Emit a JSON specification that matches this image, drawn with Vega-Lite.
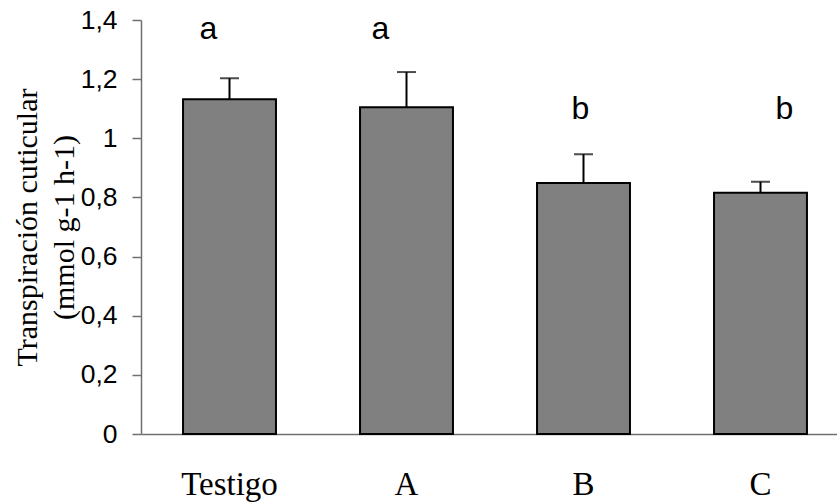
{
  "$schema": "https://vega.github.io/schema/vega-lite/v6.json",
  "width": 708,
  "height": 414,
  "autosize": {"type": "none"},
  "padding": {"left": 141, "top": 20, "right": 0, "bottom": 69},
  "background": "white",
  "config": {
    "view": {"stroke": null},
    "axis": {"grid": false},
    "axisY": {
      "labelFont": "Liberation Sans", "labelFontSize": 26.5, "labelColor": "black",
      "labelPadding": 15, "tickSize": 9, "tickColor": "#707070", "tickWidth": 1.5,
      "domainColor": "#707070", "domainWidth": 1.5
    },
    "axisX": {
      "labelAngle": 0, "ticks": false, "tickSize": 0,
      "labelFont": "Liberation Serif", "labelFontSize": 33, "labelColor": "black",
      "labelPadding": 34, "domainColor": "#707070", "domainWidth": 1.5
    }
  },
  "data": {
    "values": [
      {"trt": "Testigo", "mean": 1.132, "upper": 1.203, "letter": "a", "ly": 1.335},
      {"trt": "A", "mean": 1.105, "upper": 1.224, "letter": "a", "ly": 1.335},
      {"trt": "B", "mean": 0.849, "upper": 0.946, "letter": "b", "ly": 1.064},
      {"trt": "C", "mean": 0.816, "upper": 0.853, "letter": "b", "ly": 1.064}
    ]
  },
  "encoding": {
    "x": {
      "field": "trt", "type": "nominal", "sort": null,
      "scale": {"paddingInner": 0.475, "paddingOuter": 0.2375},
      "axis": {"title": null}
    }
  },
  "layer": [
    {
      "mark": {"type": "bar", "fill": "#808080", "stroke": "black", "strokeWidth": 2},
      "encoding": {
        "y": {
          "field": "mean", "type": "quantitative",
          "scale": {"domain": [0, 1.4], "nice": false},
          "axis": {
            "values": [0, 0.2, 0.4, 0.6, 0.8, 1, 1.2, 1.4],
            "labelExpr": "replace(format(datum.value, '~g'), '.', ',')",
            "title": ["Transpiración cuticular", "(mmol g-1 h-1)"],
            "titleFont": "Liberation Serif", "titleFontSize": 30, "titleFontWeight": "normal",
            "titleColor": "black", "titleLineHeight": 37, "titleAngle": -90,
            "titleX": -129, "titleY": 207, "titleAlign": "center", "titleBaseline": "top"
          }
        }
      }
    },
    {
      "mark": {"type": "rule", "color": "black", "strokeWidth": 2},
      "encoding": {"y": {"field": "mean", "type": "quantitative"}, "y2": {"field": "upper"}}
    },
    {
      "mark": {"type": "tick", "color": "black", "size": 19, "thickness": 2},
      "encoding": {"y": {"field": "upper", "type": "quantitative"}}
    },
    {
      "transform": [{"filter": "datum.trt === 'Testigo'"}],
      "mark": {"type": "text", "font": "Liberation Sans", "fontSize": 32, "color": "black", "baseline": "alphabetic", "dx": -21},
      "encoding": {"y": {"field": "ly", "type": "quantitative"}, "text": {"field": "letter"}}
    },
    {
      "transform": [{"filter": "datum.trt === 'A'"}],
      "mark": {"type": "text", "font": "Liberation Sans", "fontSize": 32, "color": "black", "baseline": "alphabetic", "dx": -26},
      "encoding": {"y": {"field": "ly", "type": "quantitative"}, "text": {"field": "letter"}}
    },
    {
      "transform": [{"filter": "datum.trt === 'B'"}],
      "mark": {"type": "text", "font": "Liberation Sans", "fontSize": 32, "color": "black", "baseline": "alphabetic", "dx": -3},
      "encoding": {"y": {"field": "ly", "type": "quantitative"}, "text": {"field": "letter"}}
    },
    {
      "transform": [{"filter": "datum.trt === 'C'"}],
      "mark": {"type": "text", "font": "Liberation Sans", "fontSize": 32, "color": "black", "baseline": "alphabetic", "dx": 24},
      "encoding": {"y": {"field": "ly", "type": "quantitative"}, "text": {"field": "letter"}}
    }
  ]
}
